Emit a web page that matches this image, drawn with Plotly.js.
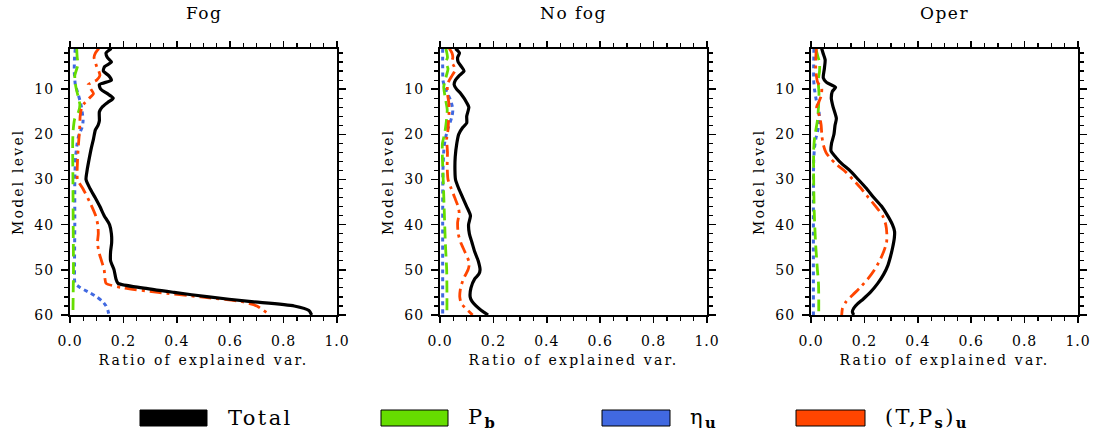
<!DOCTYPE html>
<html><head><meta charset="utf-8">
<script src="https://cdn.plot.ly/plotly-3.0.1.min.js"></script>
<style>html,body{margin:0;padding:0;background:#fff}</style>
</head><body><div id="chart" style="width:1096px;height:434px"></div>
<script>
// ---- data ----
const panelTitles = ["Fog", "No fog", "Oper"];
const seriesNames = ["Total", "P<sub><b>b</b></sub>", "η<sub><b>u</b></sub>", "(T,P<sub><b>s</b></sub>)<sub><b>u</b></sub>"];
const xTickVals = [0, 0.2, 0.4, 0.6, 0.8, 1.0];
const xTickText = ["0.0", "0.2", "0.4", "0.6", "0.8", "1.0"];
const xOddTickVals = [0.1, 0.3, 0.5, 0.7, 0.9];
const yTickVals = [10, 20, 30, 40, 50, 60];
const yTickText = ["10", "20", "30", "40", "50", "60"];

// Fog
const fogTotalLev = [1,2,3,4,5,6,7,8,9,10,11,12,13,14,15,17,18,19,21,23,26,28,30,32,34,36,38,40,42,44,46,48,50,52,53,54,55,56,57,58,59,60];
const fogTotalVal = [0.155,0.135,0.14,0.155,0.13,0.125,0.145,0.155,0.11,0.115,0.14,0.162,0.14,0.12,0.11,0.11,0.105,0.095,0.088,0.08,0.07,0.064,0.06,0.075,0.094,0.112,0.128,0.148,0.155,0.156,0.152,0.152,0.165,0.172,0.18,0.27,0.39,0.52,0.67,0.84,0.895,0.905];
const fogPbLev = [1,3,4.5,7,9.5,12,13.5,15,16.5,19,22,30,40,50,55,60];
const fogPbVal = [0.025,0.027,0.03,0.018,0.022,0.032,0.037,0.032,0.018,0.012,0.01,0.011,0.012,0.013,0.012,0.011];
const fogEtaLev = [1,3,6,9,11,12.5,14,17,18.5,20,22,25,30,40,50,53,54,55,56,57,58,59,60];
const fogEtaVal = [0.02,0.017,0.016,0.02,0.03,0.037,0.043,0.049,0.045,0.034,0.027,0.021,0.018,0.018,0.017,0.019,0.04,0.072,0.1,0.122,0.135,0.142,0.146];
const fogTpLev = [1,2,3,4,5,6,7,8,9,10,11,12,13,14,16,19,22,26,30,32,35,38,40,42,44,46,48,50,52,53,54,55,56,57,58,59,60];
const fogTpVal = [0.108,0.095,0.09,0.095,0.1,0.108,0.112,0.1,0.068,0.078,0.088,0.072,0.056,0.044,0.038,0.036,0.032,0.028,0.028,0.048,0.074,0.096,0.104,0.106,0.103,0.108,0.118,0.128,0.131,0.135,0.2,0.33,0.49,0.64,0.7,0.725,0.75];

// No fog
const nofogTotalLev = [1,2,3,4,5,6,7,8,9,10,11,12,13,14,16,17.5,18.5,20,22,25,28,30,32,34,36,38,40,42,44,46,48,50,51,52,54,56,57,58,59,60];
const nofogTotalVal = [0.058,0.073,0.066,0.068,0.08,0.09,0.072,0.058,0.053,0.062,0.078,0.09,0.1,0.108,0.1,0.1,0.085,0.07,0.063,0.057,0.056,0.058,0.07,0.085,0.1,0.114,0.107,0.11,0.12,0.13,0.143,0.15,0.145,0.13,0.116,0.113,0.12,0.135,0.155,0.18];
const nofogPbLev = [1,3,4,5.5,7,9.5,12,14.5,17,20,22,25,30,37,44,50,55,60];
const nofogPbVal = [0.022,0.028,0.022,0.03,0.024,0.014,0.02,0.027,0.024,0.017,0.009,0.009,0.012,0.016,0.02,0.025,0.026,0.026];
const nofogEtaLev = [1,5,8,9,11,12.5,14.5,16,17.5,19,21,23,28,40,50,60];
const nofogEtaVal = [0.01,0.01,0.011,0.015,0.028,0.04,0.048,0.045,0.037,0.028,0.02,0.015,0.011,0.01,0.01,0.01];
const nofogTpLev = [1,2,3,4,5,6,7,8,9,11,13,15,17,19,21,24,27,30,32,34,36,37.5,39.5,42,44,46,48.5,50,52,54,56,57.5,59,60];
const nofogTpVal = [0.035,0.045,0.048,0.044,0.053,0.055,0.045,0.035,0.028,0.028,0.033,0.034,0.032,0.03,0.025,0.028,0.027,0.03,0.042,0.055,0.068,0.072,0.066,0.068,0.078,0.093,0.11,0.105,0.088,0.077,0.074,0.08,0.105,0.122];

// Oper
const operTotalLev = [1,2,3.5,5.5,7.5,8.5,9.6,10.5,12,14,16.5,18,20,22,23.7,25,26.5,28,30,32,34,36,38,40,41.5,43,45,47,49,51,53,55,56.5,57.5,58.5,59.3,60];
const operTotalVal = [0.04,0.045,0.053,0.05,0.046,0.058,0.092,0.08,0.076,0.083,0.095,0.09,0.086,0.077,0.075,0.092,0.115,0.145,0.177,0.208,0.235,0.265,0.287,0.305,0.313,0.312,0.306,0.298,0.288,0.272,0.25,0.222,0.195,0.175,0.16,0.155,0.16];
const operPbLev = [1,3,4,6,8,11,14,17,20.5,23.5,30,37,44,50,53,56,60];
const operPbVal = [0.018,0.027,0.032,0.032,0.027,0.03,0.028,0.024,0.014,0.01,0.01,0.012,0.017,0.024,0.028,0.029,0.029];
const operEtaLev = [1,5,8,10,12.5,15,17,19,21,23,26,35,45,60];
const operEtaVal = [0.011,0.01,0.01,0.013,0.02,0.03,0.031,0.026,0.018,0.013,0.01,0.009,0.009,0.009];
const operTpLev = [1,3,6,8.5,9.8,11.5,13,14,16,18,20.5,22.5,24,25,26.5,28,30,32,34,36,38,40,42,44,46,48,50,52,54,55.5,57,58.5,60];
const operTpVal = [0.02,0.018,0.018,0.025,0.04,0.038,0.028,0.021,0.032,0.038,0.041,0.047,0.056,0.068,0.092,0.124,0.157,0.188,0.215,0.243,0.268,0.28,0.284,0.283,0.272,0.257,0.238,0.213,0.183,0.157,0.132,0.118,0.115];

// ---- styling ----
const colors = ["#000000", "#66dd00", "#4169e1", "#ff4500"];
const dashes = ["solid", "12px,6px", "4px,4px", "12px,5px,3px,5px"];
const widths = [3.2, 2.8, 3, 2.8];
const FONT = "DejaVu Serif, serif";
const sp = (t, ls) => '<span style="letter-spacing:' + ls + 'px">' + t + '</span>';

const panelData = [
  [[fogTotalLev, fogTotalVal], [fogPbLev, fogPbVal], [fogEtaLev, fogEtaVal], [fogTpLev, fogTpVal]],
  [[nofogTotalLev, nofogTotalVal], [nofogPbLev, nofogPbVal], [nofogEtaLev, nofogEtaVal], [nofogTpLev, nofogTpVal]],
  [[operTotalLev, operTotalVal], [operPbLev, operPbVal], [operEtaLev, operEtaVal], [operTpLev, operTpVal]]
];

const W = 1096, H = 434;
const xDomPx = [[70, 337], [440, 707], [811, 1078]];
const yDom = [1 - 315 / H, 1 - 48.5 / H];

const traces = [];
panelData.forEach((series, p) => {
  const ax = p === 0 ? "" : String(p + 1);
  [2, 1, 3, 0].forEach(s => {
    traces.push({
      type: "scatter", mode: "lines",
      x: series[s][1], y: series[s][0],
      xaxis: "x" + ax, yaxis: "y" + ax,
      line: {color: colors[s], width: widths[s], dash: dashes[s], shape: "spline", smoothing: 0.6},
      hoverinfo: "skip", showlegend: false
    });
  });
});

const layout = {
  width: W, height: H,
  margin: {l: 0, r: 0, t: 0, b: 0},
  paper_bgcolor: "#fff", plot_bgcolor: "#fff",
  showlegend: false,
  font: {family: FONT, color: "#000", size: 14},
  annotations: [], shapes: []
};

xDomPx.forEach((d, p) => {
  const ax = p === 0 ? "" : String(p + 1);
  const dom = [d[0] / W, d[1] / W];
  layout["xaxis" + ax] = {
    domain: dom, anchor: "y" + ax,
    range: [0, 1], tickmode: "array", tickvals: xTickVals, ticktext: xTickText.map(t => sp(t, 1)),
    ticks: "outside", ticklen: 6, tickwidth: 1.5, tickcolor: "#000",
    minor: {dtick: 0.05, tick0: 0, ticks: "outside", ticklen: 3.5, tickwidth: 1.2, tickcolor: "#000"},
    showline: true, linewidth: 2, linecolor: "#000", mirror: "allticks",
    showgrid: false, zeroline: false, ticklabelstandoff: 6,
    tickfont: {family: FONT, size: 14},
    title: {text: sp("Ratio of explained var.", 2.2), font: {family: FONT, size: 14}, standoff: 7}
  };
  // overlay axis carrying the unlabeled 0.1, 0.3, ... major ticks
  layout["xaxis" + (p + 4)] = {
    domain: dom, anchor: "y" + ax, overlaying: "x" + ax,
    range: [0, 1], tickmode: "array", tickvals: xOddTickVals, showticklabels: false,
    ticks: "outside", ticklen: 6, tickwidth: 1.5, tickcolor: "#000",
    showline: true, linewidth: 2, linecolor: "#000", mirror: "allticks",
    showgrid: false, zeroline: false
  };
  layout["yaxis" + ax] = {
    domain: yDom, anchor: "x" + ax,
    range: [60, 1], tickmode: "array", tickvals: yTickVals, ticktext: yTickText.map(t => sp(t, 1)),
    ticks: "outside", ticklen: 7, tickwidth: 1.5, tickcolor: "#000",
    minor: {dtick: 2, tick0: 0, ticks: "outside", ticklen: 4, tickwidth: 1.2, tickcolor: "#000"},
    showline: true, linewidth: 2, linecolor: "#000", mirror: "allticks",
    showgrid: false, zeroline: false, ticklabelstandoff: 4,
    tickfont: {family: FONT, size: 14},
    title: {text: sp("Model level", 2.2), font: {family: FONT, size: 14}, standoff: 7}
  };
  layout.annotations.push({
    xref: "paper", yref: "paper", x: (d[0] + d[1]) / 2 / W, y: 1 - 13 / H,
    text: sp(panelTitles[p], 1.5), showarrow: false, xanchor: "center", yanchor: "middle",
    font: {family: FONT, size: 17}
  });
});

// legend (boxes + labels)
const legBoxPx = [[140, 207], [381, 448], [602, 670], [796, 865]];
const legTextX = [226, 466, 688, 883];
legBoxPx.forEach((b, i) => {
  layout.shapes.push({
    type: "rect", xref: "paper", yref: "paper",
    x0: b[0] / W, x1: b[1] / W, y0: 1 - 426 / H, y1: 1 - 410 / H,
    fillcolor: colors[i], line: {color: "#000", width: 1}
  });
  layout.annotations.push({
    xref: "paper", yref: "paper", x: legTextX[i] / W, y: 1 - 418 / H,
    text: sp(seriesNames[i], 2.4), showarrow: false, xanchor: "left", yanchor: "middle",
    font: {family: FONT, size: 21}
  });
});

Plotly.newPlot("chart", traces, layout, {staticPlot: true, displayModeBar: false});
</script>
</body></html>
